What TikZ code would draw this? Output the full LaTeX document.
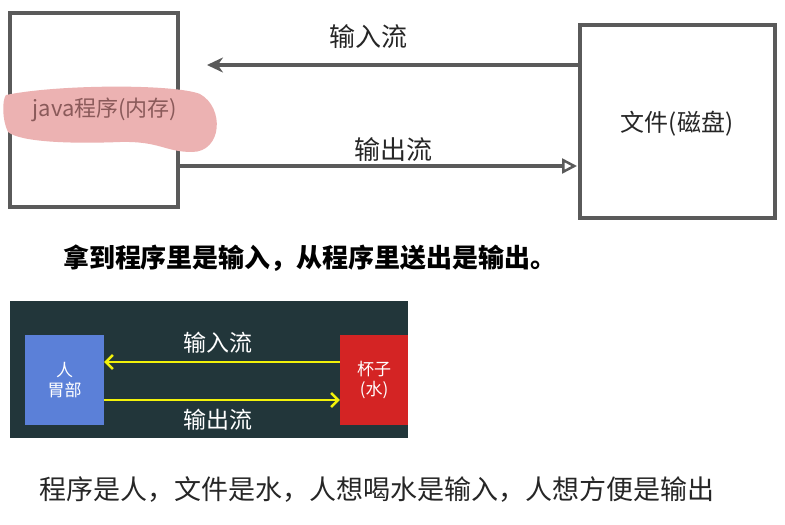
\documentclass[tikz,border=0pt]{standalone}
\usepackage{fontspec}
\setmainfont{Noto Sans CJK SC}
\usetikzlibrary{arrows.meta}
\definecolor{boxgray}{HTML}{5A5A5A}
\definecolor{panel}{HTML}{22363A}
\definecolor{pblue}{HTML}{5B80D8}
\definecolor{pred}{HTML}{D42424}
\definecolor{pink}{HTML}{ECB2B2}
\definecolor{ylw}{HTML}{F2F20A}
\definecolor{progtext}{HTML}{8A5A5A}
\tikzset{gbox/.style={draw=boxgray,line width=3.5pt,fill=white},
 lbl/.style={font=\fontsize{26}{30}\selectfont,text=black!85}}
\begin{document}
\begin{tikzpicture}[x=1pt,y=-1pt]
\useasboundingbox (0,0) rectangle (785,525);
\node[gbox,minimum width=168pt,minimum height=194pt] (prog) at (94,110) {};
\node[gbox,minimum width=195pt,minimum height=193pt] (file) at (677.5,121.5) {};
\fill[pink] (6,95) .. controls (60,84) and (175,84) .. (200,94) .. controls (225,108) and (222,152) .. (192,152) .. controls (165,152) and (160,141) .. (120,142) .. controls (70,144) and (20,142) .. (8,132) .. controls (2,120) and (2,100) .. (6,95) -- cycle;
\node[font=\fontsize{22}{25}\selectfont,text=progtext] (progt) at (105,110) {java程序(内存)};
\node[lbl,font=\fontsize{24}{28}\selectfont] (filet) at (677,124) {文件(磁盘)};
\coordinate (inend) at (207,65);
\coordinate (outend) at (577,166);
\draw[boxgray,line width=3.5pt,-{Stealth[length=16pt,width=15pt]}] (file.west |- inend) -- (inend);
\draw[boxgray,line width=3.5pt,-{Triangle[open,length=15pt,width=15pt,line width=2.5pt]}] (prog.east |- outend) -- (outend);
\node[lbl] (inl) at (368,37) {输入流};
\node[lbl] (outl) at (393,150) {输出流};
\node[font=\bfseries\fontsize{26}{30}\selectfont] (bold) at (310,258) {拿到程序里是输入，从程序里送出是输出。};
\fill[panel] (10,301) rectangle (408,438);
\node[fill=pblue,minimum width=79pt,minimum height=90pt,inner sep=0pt,align=center,text=white,font=\fontsize{17}{20}\selectfont] (ren) at (64.5,380) {人\\胃部};
\node[fill=pred,minimum width=68pt,minimum height=90pt,inner sep=0pt,align=center,text=white,font=\fontsize{17}{20}\selectfont] (cup) at (374,380) {杯子\\(水)};
\draw[ylw,line width=2.5pt,-{Straight Barb[length=7pt,width=14pt]}] (cup.west |- 0,362) -- (ren.east |- 0,362);
\draw[ylw,line width=2.5pt,-{Straight Barb[length=7pt,width=14pt]}] (ren.east |- 0,400) -- (cup.west |- 0,400);
\node[text=white,font=\fontsize{23}{26}\selectfont] (inl2) at (218,343) {输入流};
\node[text=white,font=\fontsize{23}{26}\selectfont] (outl2) at (218,420) {输出流};
\node[font=\fontsize{27}{30}\selectfont,text=black!85] (note) at (377,490) {程序是人，文件是水，人想喝水是输入，人想方便是输出};
\end{tikzpicture}
\end{document}
